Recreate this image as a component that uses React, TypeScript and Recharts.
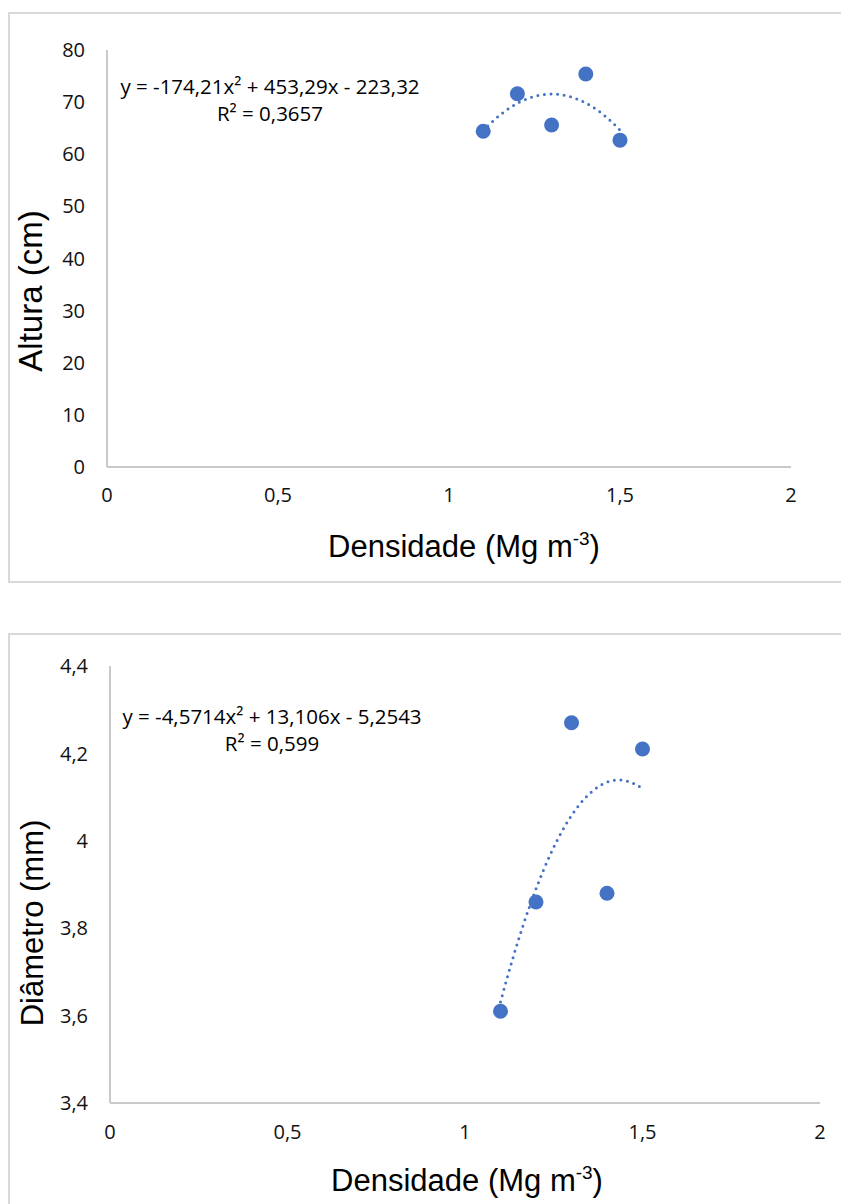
import React from "react";
import { ScatterChart, Scatter, XAxis, YAxis, Label } from "recharts";

// ---- data ----
const DENSIDADE = [1.1, 1.2, 1.3, 1.4, 1.5];
const ALTURA = [64.4, 71.6, 65.6, 75.4, 62.7];
const DIAMETRO = [3.61, 3.86, 4.27, 3.88, 4.21];
const X_TICKS = [0, 0.5, 1, 1.5, 2];
const ALTURA_TICKS = [0, 10, 20, 30, 40, 50, 60, 70, 80];
const DIAMETRO_TICKS = [3.4, 3.6, 3.8, 4.0, 4.2, 4.4];
// trendline coefficients as printed on the chart (a, b, c for ax² + bx + c)
const ALTURA_COEF = [-174.21, 453.29, -223.32];
const DIAMETRO_COEF = [-4.5714, 13.106, -5.2543];
const ALTURA_EQ = "y = -174,21x² + 453,29x - 223,32";
const ALTURA_R2 = "R² = 0,3657";
const DIAMETRO_EQ = "y = -4,5714x² + 13,106x - 5,2543";
const DIAMETRO_R2 = "R² = 0,599";
const TREND_RANGE = [1.1, 1.5];

const BLUE = "#4472C4";
const AXIS = "#c9c9c9";
const TICK_FONT = "'Open Sans', sans-serif";
const TITLE_FONT = "'Liberation Sans', Arial, sans-serif";

const points = (ys: number[]) => DENSIDADE.map((x, i) => ({ x, y: ys[i] }));
const trend = (c: number[]) => {
  const out: { x: number; y: number }[] = [];
  const n = 40;
  for (let i = 0; i <= n; i++) {
    const x = TREND_RANGE[0] + ((TREND_RANGE[1] - TREND_RANGE[0]) * i) / n;
    out.push({ x, y: c[0] * x * x + c[1] * x + c[2] });
  }
  return out;
};
const fmt = (v: number) => String(Math.round(v * 100) / 100).replace(".", ",");

const XTitle = (dx: number, dy: number) => (props: any) => {
  const vb = props.viewBox;
  return (
    <text
      x={vb.x + vb.width / 2 + dx}
      y={vb.y + dy}
      textAnchor="middle"
      fontFamily={TITLE_FONT}
      fontSize={31}
      fill="#000"
    >
      Densidade (Mg m
      <tspan dy={-12} fontSize={19}>-3</tspan>
      <tspan dy={12}>)</tspan>
    </text>
  );
};

const YTitle = (text: string, x: number, cy: number, size: number) => (props: any) => {
  const vb = props.viewBox;
  const y = vb.y + cy;
  return (
    <text
      x={x}
      y={y}
      transform={`rotate(-90 ${x} ${y})`}
      textAnchor="middle"
      fontFamily={TITLE_FONT}
      fontSize={size}
      fill="#000"
    >
      {text}
    </text>
  );
};

const Dot = (props: any) => <circle cx={props.cx} cy={props.cy} r={7.5} fill={BLUE} />;
const NoShape = () => <g />;

const boxStyle: React.CSSProperties = {
  position: "absolute",
  left: 0,
  width: 860,
  border: "2px solid #d9d9d9",
  background: "#fff",
};
const eqStyle: React.CSSProperties = {
  position: "absolute",
  fontFamily: TICK_FONT,
  fontSize: 20.5,
  color: "#000",
  whiteSpace: "nowrap",
  lineHeight: "27px",
  textAlign: "center",
};

export default function App() {
  const tickStyle = { fontFamily: TICK_FONT, fontSize: 20, fill: "#111" };
  return (
    <div style={{ position: "relative", width: 841, height: 1196, overflow: "hidden", background: "#fff" }}>
      {/* top chart */}
      <div style={{ ...boxStyle, top: 4, height: 567 }}>
        <ScatterChart width={840} height={567} margin={{ top: 36, right: 59, bottom: 54, left: 37 }}>
          <XAxis
            type="number"
            dataKey="x"
            domain={[0, 2]}
            ticks={X_TICKS}
            tickFormatter={fmt}
            tick={tickStyle}
            tickLine={false}
            tickSize={0}
            tickMargin={21}
            height={60}
            stroke={AXIS}
            strokeWidth={2}
          >
            <Label content={XTitle(15, 90)} />
          </XAxis>
          <YAxis
            type="number"
            dataKey="y"
            domain={[0, 80]}
            ticks={ALTURA_TICKS}
            tickFormatter={fmt}
            tick={tickStyle}
            tickLine={false}
            tickSize={0}
            tickMargin={22}
            width={60}
            stroke={AXIS}
            strokeWidth={2}
          >
            <Label content={YTitle("Altura (cm)", 32, 241, 33)} />
          </YAxis>
          <Scatter
            data={trend(ALTURA_COEF)}
            line={{ stroke: BLUE, strokeWidth: 3, strokeDasharray: "0 6.6", strokeLinecap: "round" }}
            lineType="joint"
            shape={NoShape}
            isAnimationActive={false}
          />
          <Scatter data={points(ALTURA)} fill={BLUE} shape={Dot} isAnimationActive={false} />
        </ScatterChart>
        <div style={{ ...eqStyle, left: 100, top: 59, width: 320 }}>
          {ALTURA_EQ}
          <br />
          {ALTURA_R2}
        </div>
      </div>

      {/* bottom chart */}
      <div style={{ ...boxStyle, top: 625, height: 600 }}>
        <ScatterChart width={840} height={569} margin={{ top: 31, right: 30, bottom: 41, left: 40 }}>
          <XAxis
            type="number"
            dataKey="x"
            domain={[0, 2]}
            ticks={X_TICKS}
            tickFormatter={fmt}
            tick={tickStyle}
            tickLine={false}
            tickSize={0}
            tickMargin={22}
            height={60}
            stroke={AXIS}
            strokeWidth={2}
          >
            <Label content={XTitle(2, 88)} />
          </XAxis>
          <YAxis
            type="number"
            dataKey="y"
            domain={[3.4, 4.4]}
            ticks={DIAMETRO_TICKS}
            tickFormatter={fmt}
            tick={tickStyle}
            tickLine={false}
            tickSize={0}
            tickMargin={22}
            width={60}
            stroke={AXIS}
            strokeWidth={2}
          >
            <Label content={YTitle("Diâmetro (mm)", 33, 257, 31)} />
          </YAxis>
          <Scatter
            data={trend(DIAMETRO_COEF)}
            line={{ stroke: BLUE, strokeWidth: 3, strokeDasharray: "0 6.6", strokeLinecap: "round" }}
            lineType="joint"
            shape={NoShape}
            isAnimationActive={false}
          />
          <Scatter data={points(DIAMETRO)} fill={BLUE} shape={Dot} isAnimationActive={false} />
        </ScatterChart>
        <div style={{ ...eqStyle, left: 102, top: 68, width: 320 }}>
          {DIAMETRO_EQ}
          <br />
          {DIAMETRO_R2}
        </div>
      </div>
    </div>
  );
}
